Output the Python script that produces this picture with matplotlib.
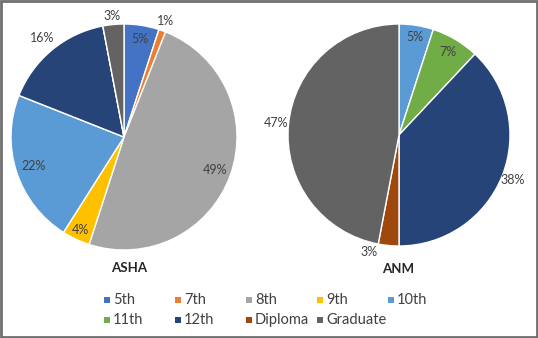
import matplotlib
matplotlib.use("Agg")
import matplotlib.pyplot as plt
from matplotlib.patches import Rectangle
import numpy as np

categories = ["5th", "7th", "8th", "9th", "10th", "11th", "12th", "Diploma", "Graduate"]
asha_values = [5, 1, 49, 4, 22, 0, 16, 0, 3]
anm_values = [0, 0, 0, 0, 5, 7, 38, 3, 47]
colors = ["#4472C4", "#ED7D31", "#A5A5A5", "#FFC000", "#5B9BD5",
          "#70AD47", "#264478", "#9E480E", "#636363"]

# label radial distance (fraction of radius) and angular shift (deg) per category, style only
asha_label_r = [0.88, 1.09, 0.86, 0.91, 0.84, 1.0, 1.14, 1.0, 1.08]
asha_label_da = [0, 0, 0, 0, 0, 0, 0, 0, 0]
anm_label_r = [1.0, 1.0, 1.0, 1.0, 0.89, 0.87, 1.1, 1.09, 1.11]
anm_label_da = [0, 0, 0, 0, 0, 0, 0, 9, 0]

plt.rcParams['font.family'] = ['Lato', 'DejaVu Sans']

W, H = 538, 338
fig = plt.figure(figsize=(W / 100, H / 100), dpi=100)


def make_axes(cx, cy, r):
    return fig.add_axes([(cx - r) / W, (H - cy - r) / H, 2 * r / W, 2 * r / H])


def draw_pie(ax, values, label_r, label_da):
    ax.pie(values, colors=colors, startangle=90, counterclock=False,
           wedgeprops=dict(edgecolor="white", linewidth=1.0), radius=1)
    total = float(sum(values))
    cum = 0.0
    for v, lr, da in zip(values, label_r, label_da):
        if v > 0:
            mid = (cum + v / 2) / total * 360.0 + da
            ang = np.deg2rad(90 - mid)
            ax.text(lr * np.cos(ang), lr * np.sin(ang), f"{v}%", ha="center", va="center",
                    fontsize=9, color="#404040")
        cum += v
    ax.set_xlim(-1, 1)
    ax.set_ylim(-1, 1)
    ax.set_aspect("equal")
    ax.axis("off")


ax1 = make_axes(124, 137, 113)
draw_pie(ax1, asha_values, asha_label_r, asha_label_da)
ax2 = make_axes(399, 135, 111)
draw_pie(ax2, anm_values, anm_label_r, anm_label_da)

fig.text(129 / W, 1 - 268 / H, "ASHA", ha="center", va="center", fontsize=9.5,
         fontweight="bold", color="#262626")
fig.text(398 / W, 1 - 269 / H, "ANM", ha="center", va="center", fontsize=9.5,
         fontweight="bold", color="#262626")

# manual legend laid out like the reference (5 columns, 2 rows)
col_x = [107, 178, 249, 320, 391]
row_y = [300, 320]
sq = 6
for i, (cat, c) in enumerate(zip(categories, colors)):
    r, k = divmod(i, 5)
    mx, my = col_x[k], row_y[r]
    fig.add_artist(Rectangle(((mx - sq / 2) / W, 1 - (my + sq / 2) / H), sq / W, sq / H,
                             transform=fig.transFigure, facecolor=c, edgecolor="none"))
    fig.text((mx + sq / 2 + 3) / W, 1 - my / H, cat, ha="left", va="center",
             fontsize=10.5, color="#404040")

fig.patches.append(Rectangle((0.002, 0.003), 0.996, 0.994, transform=fig.transFigure,
                             fill=False, edgecolor="#6f6f6f", linewidth=2))

fig.savefig("out.png", dpi=100)
